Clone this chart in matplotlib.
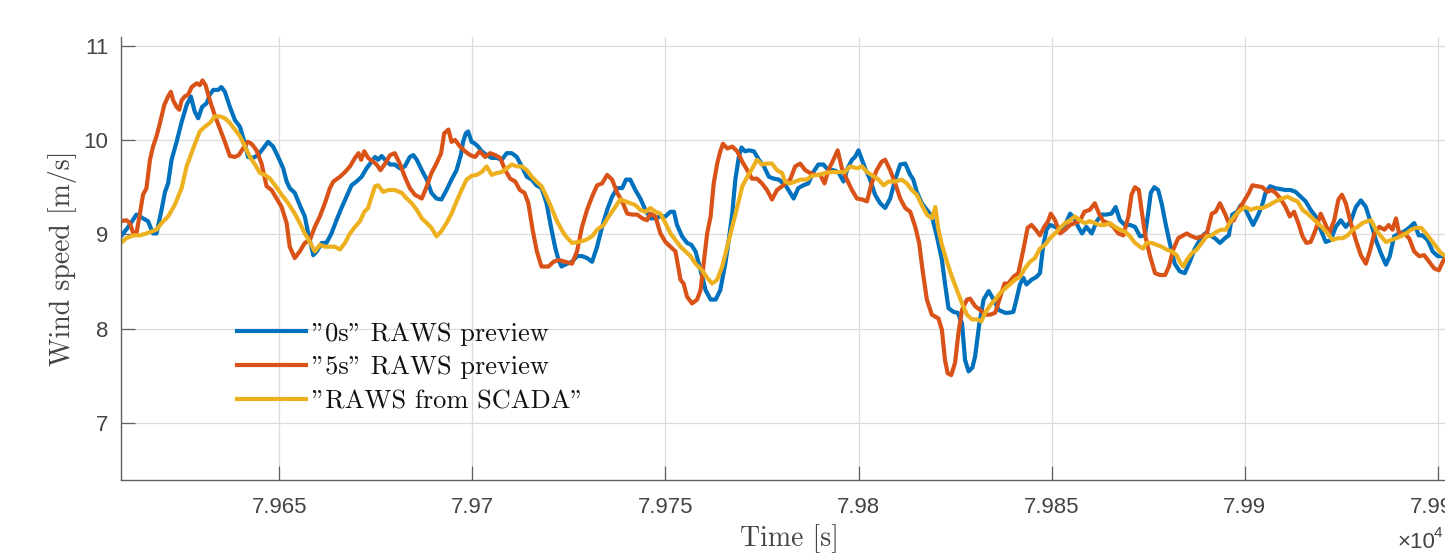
import matplotlib
matplotlib.use('Agg')
import matplotlib.pyplot as plt
from matplotlib.ticker import FuncFormatter

# "0s" RAWS preview (blue)
t_0s = [79609.0, 79610.9, 79613.0, 79614.7, 79616.0, 79617.3, 79618.2, 79619.5, 79620.4, 79621.2,
        79622.1, 79623.4, 79624.7, 79626.0, 79627.1, 79628.1, 79629.0, 79630.0, 79631.2, 79632.0,
        79632.9, 79634.2, 79635.0, 79635.9, 79637.2, 79638.5, 79639.8, 79641.1, 79641.9, 79643.2,
        79644.5, 79645.8, 79647.1, 79648.4, 79649.7, 79651.0, 79651.9, 79652.7, 79654.0, 79655.3,
        79656.6, 79657.5, 79658.8, 79659.7, 79661.0, 79662.2, 79663.5, 79664.8,
        79666.1, 79667.4, 79668.7, 79670.0, 79671.3, 79672.6, 79673.9, 79674.8, 79675.6, 79676.5,
        79677.4, 79678.7, 79679.9, 79681.2, 79682.5, 79683.8, 79684.7, 79685.6, 79686.9, 79688.2,
        79689.4, 79690.7, 79692.0, 79693.3, 79694.6, 79695.9, 79697.0, 79697.6, 79698.3, 79698.9,
        79699.8, 79700.7, 79701.5, 79702.4, 79703.7, 79705.0, 79706.3, 79707.6, 79708.9, 79710.2,
        79711.5, 79712.8, 79714.1, 79715.4, 79716.6, 79717.9, 79719.2, 79720.5, 79721.4, 79722.3,
        79723.1, 79724.0,
        79725.8, 79727.1, 79728.4, 79729.7, 79731.0, 79732.3, 79733.6, 79734.9, 79736.2, 79737.5,
        79738.8, 79739.8, 79740.9, 79742.2, 79743.5, 79744.8, 79746.1, 79747.4, 79748.7, 79750.0,
        79751.3, 79752.2, 79753.0, 79754.3, 79755.6, 79756.7, 79757.8, 79759.1, 79760.4, 79761.7,
        79763.0, 79764.2, 79765.5, 79766.4, 79767.3, 79768.1, 79769.0, 79769.7, 79770.6, 79771.6,
        79772.9, 79774.2, 79775.5, 79776.8, 79778.1, 79779.4, 79781.1,
        79782.3, 79783.2, 79784.4, 79785.7, 79787.0, 79788.3, 79789.6, 79790.9, 79792.2, 79793.5,
        79794.8, 79796.1, 79797.2, 79798.3, 79799.1, 79800.0, 79800.9, 79801.7, 79803.0, 79804.3,
        79805.6, 79806.9, 79808.2, 79809.5, 79810.8, 79812.1, 79813.4, 79814.2, 79815.1, 79816.4,
        79817.7, 79819.0, 79820.3, 79821.6, 79822.4, 79823.3, 79824.6, 79825.7, 79826.8, 79827.6,
        79828.5, 79829.5, 79830.2, 79831.3, 79832.4, 79833.7, 79835.0, 79836.3, 79838.0,
        79838.8, 79840.1, 79840.9, 79841.8, 79842.7, 79843.5, 79844.8, 79846.1, 79847.0, 79847.8,
        79848.7, 79849.6, 79850.9, 79852.2, 79853.5, 79854.8, 79855.9, 79856.9, 79857.9, 79859.0,
        79860.4, 79861.7, 79863.0, 79864.2, 79865.5, 79866.6, 79867.7, 79869.0, 79870.3, 79871.6,
        79872.9, 79874.2, 79875.0, 79875.7, 79876.6, 79877.6, 79878.5, 79879.5, 79880.6, 79881.9,
        79883.2, 79884.5, 79885.8, 79887.1, 79888.4, 79889.7, 79891.0, 79892.3, 79893.6, 79894.9,
        79895.9, 79896.8, 79898.1, 79899.0, 79900.3, 79901.1, 79902.2, 79903.3, 79904.4, 79905.4,
        79906.6, 79907.9, 79909.3, 79910.6, 79911.9, 79913.2, 79914.5, 79915.8, 79917.1, 79918.4,
        79919.7, 79921.0, 79922.3, 79923.6, 79924.9, 79926.2, 79927.5, 79928.8, 79930.1, 79931.4,
        79932.7, 79934.0, 79935.3, 79936.6, 79937.6, 79938.7, 79940.0, 79941.3, 79942.6, 79943.9,
        79945.1, 79946.1, 79947.4, 79948.7, 79950.0, 79951.3, 79952.2, 79956.0]
v_0s = [8.98, 9.08, 9.21, 9.17, 9.14, 9.01, 9.01, 9.26, 9.45, 9.54,
        9.79, 9.98, 10.19, 10.37, 10.46, 10.30, 10.23, 10.35, 10.39, 10.48,
        10.53, 10.53, 10.56, 10.51, 10.35, 10.21, 10.14, 9.96, 9.82, 9.81,
        9.84, 9.91, 9.98, 9.93, 9.82, 9.70, 9.56, 9.49, 9.44, 9.31,
        9.19, 9.01, 8.78, 8.82, 8.91, 8.91, 9.01, 9.15,
        9.28, 9.40, 9.52, 9.56, 9.61, 9.70, 9.77, 9.82, 9.79, 9.83,
        9.79, 9.74, 9.74, 9.70, 9.72, 9.82, 9.84, 9.79, 9.68, 9.58,
        9.44, 9.38, 9.37, 9.47, 9.58, 9.68, 9.84, 9.98, 10.07, 10.09,
        9.98, 9.96, 9.93, 9.88, 9.84, 9.81, 9.81, 9.79, 9.86, 9.86,
        9.82, 9.72, 9.61, 9.58, 9.52, 9.49, 9.33, 9.05, 8.87, 8.73,
        8.66, 8.68,
        8.71, 8.77, 8.77, 8.75, 8.71, 8.87, 9.08, 9.26, 9.40, 9.49,
        9.49, 9.58, 9.58, 9.47, 9.38, 9.26, 9.17, 9.17, 9.19, 9.19,
        9.24, 9.24, 9.10, 8.98, 8.91, 8.89, 8.82, 8.62, 8.41, 8.31,
        8.31, 8.41, 8.69, 8.94, 9.22, 9.58, 9.82, 9.92, 9.88, 9.89,
        9.88, 9.79, 9.72, 9.61, 9.59, 9.58, 9.52,
        9.44, 9.38, 9.49, 9.52, 9.54, 9.66, 9.74, 9.74, 9.68, 9.68,
        9.66, 9.56, 9.70, 9.79, 9.82, 9.89, 9.79, 9.70, 9.58, 9.42,
        9.33, 9.28, 9.38, 9.58, 9.74, 9.75, 9.63, 9.58, 9.45, 9.33,
        9.26, 9.19, 8.98, 8.73, 8.48, 8.22, 8.18, 8.17, 8.06, 7.67,
        7.55, 7.59, 7.71, 8.06, 8.31, 8.40, 8.31, 8.20, 8.17,
        8.17, 8.18, 8.31, 8.47, 8.54, 8.47, 8.52, 8.55, 8.59, 8.87,
        9.05, 9.10, 9.08, 9.05, 9.10, 9.22, 9.17, 9.08, 9.01, 9.08,
        9.01, 9.14, 9.21, 9.21, 9.22, 9.29, 9.15, 9.10, 9.10, 9.08,
        8.98, 8.99, 9.22, 9.44, 9.50, 9.47, 9.33, 9.12, 8.91, 8.69,
        8.61, 8.59, 8.71, 8.85, 8.94, 9.01, 8.99, 8.96, 8.91, 8.96,
        8.99, 9.21, 9.24, 9.31, 9.26, 9.19, 9.10, 9.19, 9.29, 9.44,
        9.51, 9.49, 9.48, 9.47, 9.47, 9.45, 9.40, 9.35, 9.26, 9.19,
        9.05, 8.92, 8.94, 9.08, 9.15, 9.08, 9.14, 9.29, 9.36, 9.29,
        9.12, 8.94, 8.80, 8.68, 8.77, 8.98, 9.01, 9.03, 9.07, 9.12,
        8.99, 8.99, 8.94, 8.82, 8.77, 8.77, 8.78, 8.78]

# "5s" RAWS preview (orange)
t_5s = [79609.0, 79610.4, 79611.3, 79612.2, 79613.0, 79613.9, 79614.7, 79615.6, 79616.5, 79617.3,
        79618.2, 79619.1, 79620.2, 79621.2, 79621.9, 79622.5, 79623.4, 79624.1, 79624.7, 79625.5,
        79626.4, 79627.3, 79628.6, 79629.4, 79630.1, 79630.9, 79632.0, 79633.3, 79634.6, 79635.9,
        79637.2, 79638.5, 79639.5, 79640.6, 79641.8, 79642.8, 79644.1, 79645.4, 79646.7, 79648.0,
        79649.3, 79650.6, 79651.9, 79652.7, 79654.0, 79655.3, 79656.6, 79657.9, 79659.2, 79660.5,
        79661.8, 79663.1, 79664.0,
        79665.7, 79667.0, 79668.3, 79669.6, 79670.5, 79671.2, 79672.0, 79673.0, 79674.3, 79675.2,
        79676.2, 79677.4, 79678.7, 79679.9, 79681.2, 79682.5, 79683.8, 79685.1, 79686.9, 79688.2,
        79689.4, 79690.7, 79691.9, 79692.7, 79693.8, 79694.6, 79695.5, 79696.8, 79698.1, 79699.4,
        79700.7, 79701.9, 79703.3, 79704.6, 79705.9, 79707.2, 79708.5, 79709.8, 79711.1, 79712.3,
        79713.5, 79714.5, 79715.6, 79716.7, 79717.9, 79719.7, 79721.0, 79722.3, 79724.0,
        79725.8, 79727.1, 79728.4, 79729.7, 79731.0, 79732.3, 79733.6, 79734.9, 79736.2, 79737.5,
        79738.8, 79740.1, 79741.4, 79742.7, 79744.0, 79745.2, 79746.1, 79747.4, 79748.7, 79750.0,
        79751.3, 79752.6, 79753.9, 79754.7, 79755.6, 79756.9, 79758.2, 79759.1, 79759.9, 79760.8,
        79761.7, 79762.5, 79763.4, 79764.2, 79764.9, 79766.0, 79767.3, 79768.6, 79769.9, 79771.2,
        79772.4, 79773.7, 79775.0, 79776.3, 79777.6, 79778.9, 79780.2,
        79782.3, 79783.6, 79784.9, 79786.2, 79787.5, 79788.8, 79790.1, 79791.2, 79792.2, 79793.5,
        79794.6, 79795.7, 79797.0, 79798.3, 79799.6, 79800.9, 79802.2, 79803.4, 79804.7, 79806.0,
        79806.9, 79808.2, 79809.5, 79810.8, 79812.1, 79813.4, 79814.7, 79815.7, 79816.6, 79817.7,
        79819.0, 79820.7, 79821.6, 79822.4, 79823.1, 79824.0, 79825.0, 79825.9, 79826.8, 79828.1,
        79828.9, 79830.2, 79831.5, 79832.8, 79834.1, 79835.4, 79836.7, 79837.8,
        79838.8, 79840.1, 79841.4, 79842.7, 79843.8, 79844.8, 79845.9, 79847.0, 79848.1, 79849.1,
        79849.8, 79850.9, 79852.2, 79853.5, 79854.8, 79856.0, 79857.3, 79858.5, 79859.9, 79861.2,
        79862.3, 79863.4, 79864.7, 79866.0, 79867.3, 79868.6, 79869.9, 79870.7, 79871.6, 79872.6,
        79873.3, 79874.3, 79875.5, 79876.8, 79878.1, 79879.4, 79880.4, 79881.5, 79882.8, 79884.1,
        79885.0, 79886.3, 79887.6, 79888.9, 79890.2, 79891.5, 79892.5, 79893.6, 79894.9,
        79895.9, 79897.2, 79898.5, 79899.8, 79901.1, 79902.0, 79903.3, 79904.6, 79905.9, 79907.0,
        79908.0, 79909.3, 79910.6, 79911.7, 79912.8, 79913.9, 79915.0, 79916.0, 79917.1, 79918.4,
        79919.7, 79920.8, 79921.9, 79923.2, 79924.3, 79925.2, 79926.2, 79927.5, 79928.8, 79930.1,
        79931.4, 79932.4, 79933.6, 79934.9, 79936.2, 79937.3, 79938.3, 79939.2, 79940.0, 79941.3,
        79942.6, 79943.9, 79945.2, 79946.5, 79947.8, 79949.1, 79950.3, 79951.3, 79952.2, 79956.0]
v_5s = [9.14, 9.15, 9.12, 9.01, 9.01, 9.22, 9.42, 9.49, 9.79, 9.93,
        10.04, 10.18, 10.37, 10.46, 10.51, 10.42, 10.35, 10.32, 10.42, 10.46,
        10.48, 10.56, 10.60, 10.58, 10.63, 10.58, 10.42, 10.26, 10.12, 9.98,
        9.83, 9.82, 9.84, 9.91, 9.98, 9.96, 9.89, 9.75, 9.51, 9.47,
        9.38, 9.29, 9.12, 8.87, 8.75, 8.82, 8.91, 8.94, 9.08, 9.19,
        9.33, 9.49, 9.56,
        9.61, 9.66, 9.72, 9.81, 9.86, 9.79, 9.88, 9.81, 9.77, 9.74,
        9.68, 9.75, 9.84, 9.86, 9.75, 9.61, 9.49, 9.42, 9.38, 9.51,
        9.65, 9.75, 9.86, 10.07, 10.11, 9.98, 10.00, 9.93, 9.88, 9.84,
        9.82, 9.88, 9.82, 9.86, 9.84, 9.81, 9.68, 9.59, 9.56, 9.47,
        9.44, 9.33, 9.05, 8.82, 8.66, 8.66, 8.71, 8.73, 8.71,
        8.69, 8.82, 9.08, 9.26, 9.40, 9.52, 9.54, 9.63, 9.58, 9.44,
        9.35, 9.22, 9.21, 9.21, 9.17, 9.15, 9.22, 9.19, 9.01, 8.92,
        8.87, 8.82, 8.52, 8.48, 8.34, 8.27, 8.31, 8.41, 8.69, 9.01,
        9.19, 9.54, 9.75, 9.88, 9.96, 9.91, 9.93, 9.88, 9.77, 9.68,
        9.59, 9.59, 9.54, 9.47, 9.37, 9.47, 9.51,
        9.58, 9.72, 9.75, 9.68, 9.65, 9.63, 9.63, 9.54, 9.68, 9.79,
        9.89, 9.70, 9.58, 9.47, 9.38, 9.37, 9.35, 9.54, 9.68, 9.77,
        9.79, 9.68, 9.54, 9.38, 9.28, 9.24, 9.08, 8.91, 8.62, 8.31,
        8.15, 8.11, 7.99, 7.67, 7.53, 7.51, 7.64, 7.96, 8.20, 8.31,
        8.32, 8.24, 8.20, 8.15, 8.15, 8.17, 8.34, 8.48,
        8.48, 8.55, 8.59, 8.84, 9.07, 9.10, 9.05, 8.99, 9.08, 9.14,
        9.22, 9.15, 9.01, 9.05, 9.10, 9.12, 9.14, 9.24, 9.26, 9.33,
        9.22, 9.14, 9.12, 9.08, 9.01, 8.99, 9.19, 9.42, 9.50, 9.47,
        9.26, 8.98, 8.77, 8.59, 8.57, 8.57, 8.66, 8.84, 8.96, 8.99,
        9.01, 8.98, 8.96, 8.98, 9.01, 9.22, 9.24, 9.33, 9.22,
        9.12, 9.15, 9.26, 9.35, 9.44, 9.52, 9.51, 9.50, 9.45, 9.47,
        9.44, 9.38, 9.29, 9.19, 9.24, 9.12, 8.98, 8.91, 8.92, 9.05,
        9.22, 9.12, 9.01, 9.15, 9.37, 9.42, 9.33, 9.12, 8.94, 8.78,
        8.69, 8.82, 9.01, 9.08, 9.05, 9.10, 9.05, 9.17, 9.01, 9.01,
        8.96, 8.82, 8.77, 8.78, 8.71, 8.64, 8.62, 8.71, 8.77, 8.80]

# "RAWS from SCADA" (yellow)
t_scada = [79609.0, 79610.4, 79612.2, 79613.9, 79615.6, 79616.9, 79618.2, 79619.5, 79621.2, 79622.9,
           79624.7, 79626.0, 79627.7, 79629.4, 79630.7, 79632.0, 79633.3, 79634.6, 79635.9, 79637.2,
           79638.5, 79639.8, 79641.1, 79642.4, 79643.7, 79645.0, 79646.3, 79647.6, 79648.9, 79650.6,
           79652.3, 79654.0, 79655.3, 79656.6, 79657.9, 79659.2, 79660.5, 79661.8, 79663.5,
           79664.4, 79665.7, 79667.0, 79668.3, 79669.6, 79670.9, 79672.0, 79673.0, 79673.9, 79674.8,
           79675.6, 79676.9, 79678.2, 79679.9, 79681.7, 79683.0, 79684.3, 79685.6, 79686.9, 79688.2,
           79689.4, 79690.7, 79691.9, 79693.3, 79694.6, 79695.9, 79697.2, 79698.5, 79699.8, 79701.1,
           79702.4, 79703.7, 79705.0, 79706.3, 79707.6, 79708.9, 79710.2, 79711.5, 79712.8, 79714.1,
           79715.4, 79716.6, 79717.9, 79719.2, 79720.5, 79721.8, 79723.1, 79724.0,
           79725.8, 79727.5, 79729.3, 79731.0, 79732.3, 79734.0, 79735.3, 79737.0, 79738.3, 79739.6,
           79740.9, 79742.2, 79743.5, 79744.8, 79746.1, 79747.4, 79748.7, 79750.0, 79751.3, 79752.6,
           79753.9, 79755.2, 79756.5, 79757.8, 79759.5, 79760.8, 79762.1, 79763.4, 79764.7, 79766.0,
           79767.3, 79768.6, 79769.9, 79771.2, 79772.5, 79773.7, 79775.0, 79776.3, 79777.6, 79778.9,
           79780.2,
           79781.0, 79782.3, 79783.6, 79784.9, 79786.6, 79787.9, 79789.6, 79791.4, 79793.1, 79794.8,
           79796.5, 79797.8, 79799.6, 79800.9, 79802.2, 79803.4, 79805.2, 79806.5, 79807.8, 79809.5,
           79811.2, 79812.5, 79813.8, 79815.1, 79816.4, 79817.7, 79819.0, 79819.9, 79820.7, 79821.6,
           79822.9, 79824.2, 79825.5, 79826.8, 79828.1, 79829.4, 79830.7, 79831.8, 79832.8, 79834.1,
           79835.4, 79836.7, 79838.0,
           79839.2, 79840.5, 79841.8, 79843.1, 79844.4, 79845.7, 79847.0, 79848.3, 79849.6, 79850.9,
           79852.2, 79853.5, 79854.8, 79856.0, 79857.3, 79858.6, 79859.9, 79861.2, 79862.5, 79863.8,
           79865.1, 79866.4, 79867.7, 79869.0, 79870.3, 79871.6, 79872.9, 79873.7, 79874.6, 79875.9,
           79877.2, 79878.5, 79879.8, 79881.1, 79882.4, 79883.2, 79884.1, 79885.0, 79886.3, 79887.6,
           79888.9, 79890.2, 79891.5, 79892.8, 79894.0,
           79895.1, 79896.4, 79897.7, 79899.0, 79900.3, 79901.6, 79902.9, 79904.6, 79906.3, 79908.0,
           79909.8, 79911.1, 79912.4, 79913.7, 79915.0, 79916.3, 79917.6, 79918.9, 79920.2, 79921.5,
           79922.8, 79924.1, 79925.4, 79926.7, 79928.0, 79929.3, 79930.5, 79931.8, 79932.7, 79934.0,
           79935.3, 79936.6, 79937.9, 79939.2, 79940.5, 79941.8, 79943.1, 79944.4, 79945.7, 79947.0,
           79948.3, 79949.6, 79950.9, 79952.2, 79956.0]
v_scada = [8.91, 8.96, 8.99, 8.99, 9.01, 9.03, 9.05, 9.12, 9.19, 9.31,
           9.49, 9.72, 9.91, 10.09, 10.14, 10.18, 10.25, 10.25, 10.23, 10.18,
           10.11, 10.04, 9.93, 9.82, 9.74, 9.65, 9.63, 9.59, 9.52, 9.42,
           9.33, 9.22, 9.12, 9.01, 8.92, 8.82, 8.89, 8.87, 8.87,
           8.87, 8.84, 8.91, 9.01, 9.08, 9.14, 9.24, 9.28, 9.40, 9.51,
           9.52, 9.45, 9.47, 9.47, 9.44, 9.38, 9.33, 9.26, 9.17, 9.12,
           9.07, 8.98, 9.03, 9.12, 9.22, 9.35, 9.47, 9.58, 9.62, 9.63,
           9.66, 9.72, 9.63, 9.65, 9.66, 9.70, 9.74, 9.72, 9.72, 9.68,
           9.61, 9.56, 9.51, 9.40, 9.28, 9.15, 9.05, 8.99,
           8.91, 8.92, 8.94, 8.98, 9.05, 9.10, 9.19, 9.29, 9.37, 9.35,
           9.33, 9.31, 9.26, 9.24, 9.28, 9.24, 9.22, 9.12, 9.01, 8.94,
           8.87, 8.82, 8.77, 8.69, 8.62, 8.54, 8.48, 8.52, 8.66, 8.87,
           9.08, 9.29, 9.51, 9.61, 9.70, 9.79, 9.74, 9.75, 9.75, 9.68,
           9.65,
           9.56, 9.54, 9.56, 9.58, 9.58, 9.62, 9.63, 9.65, 9.66, 9.66,
           9.66, 9.72, 9.70, 9.72, 9.66, 9.63, 9.58, 9.52, 9.56, 9.56,
           9.58, 9.54, 9.47, 9.42, 9.31, 9.21, 9.17, 9.29, 9.05, 8.89,
           8.71, 8.55, 8.41, 8.27, 8.15, 8.10, 8.10, 8.08, 8.17, 8.25,
           8.31, 8.38, 8.43,
           8.47, 8.52, 8.55, 8.64, 8.71, 8.75, 8.85, 8.89, 8.96, 9.01,
           9.07, 9.12, 9.15, 9.19, 9.15, 9.12, 9.14, 9.12, 9.10, 9.10,
           9.12, 9.08, 9.05, 9.03, 8.98, 8.91, 8.87, 8.85, 8.91, 8.91,
           8.89, 8.87, 8.84, 8.82, 8.78, 8.71, 8.66, 8.73, 8.80, 8.84,
           8.91, 8.98, 8.99, 9.03, 9.05,
           9.05, 9.14, 9.21, 9.26, 9.29, 9.26, 9.28, 9.28, 9.31, 9.35,
           9.38, 9.40, 9.37, 9.35, 9.26, 9.22, 9.17, 9.12, 9.07, 9.01,
           8.94, 8.96, 8.96, 8.99, 9.05, 9.08, 9.12, 9.14, 9.15, 9.05,
           8.98, 8.92, 8.94, 8.96, 8.98, 9.01, 9.05, 9.07, 9.07, 9.01,
           8.94, 8.87, 8.80, 8.77, 8.75]

labels = ['"0s" RAWS preview', '"5s" RAWS preview', '"RAWS from SCADA"']
colors = ['#0072BD', '#D95319', '#EDB120']
x_ticks = [79650, 79700, 79750, 79800, 79850, 79900, 79950]
y_ticks = [7, 8, 9, 10, 11]

W, H = 1445, 558
fig = plt.figure(figsize=(W / 100, H / 100), dpi=100)
# axes runs past the right edge of the picture, as in the reference crop
ax = fig.add_axes([121 / W, (H - 480) / H, (1457 - 121) / W, (480 - 37) / H])

for t, v, c, lab in zip([t_0s, t_5s, t_scada], [v_0s, v_5s, v_scada], colors, labels):
    ax.plot(t, v, color=c, lw=3.0, label=lab, solid_joinstyle='round')

ax.set_xlim(79609, 79955)
ax.set_ylim(6.4, 11.09)
ax.set_xticks(x_ticks)
ax.set_yticks(y_ticks)
ax.xaxis.set_major_formatter(FuncFormatter(lambda v, p: f'{v / 1e4:g}'))

ax.grid(True, color='#dcdcdc', lw=0.9)
ax.set_axisbelow(True)
for s in ['top', 'right']:
    ax.spines[s].set_visible(False)
for s in ['left', 'bottom']:
    ax.spines[s].set_color('#606060')
    ax.spines[s].set_linewidth(1.0)

ax.tick_params(direction='in', length=10, width=0.9, color='#606060', labelcolor='#444444')
ax.tick_params(axis='x', pad=12)
ax.tick_params(axis='y', pad=9)
for lab in ax.get_xticklabels() + ax.get_yticklabels():
    lab.set_family('Liberation Sans')
    lab.set_fontsize(16)

ax.set_xlabel('Time [s]', family='cmr10', fontsize=20, color='#444444', labelpad=5)
ax.set_ylabel('Wind speed [m/s]', family='cmr10', fontsize=20, color='#444444', labelpad=5)

leg = ax.legend(loc='upper left', bbox_to_anchor=((237 - 121) / 1336, (480 - 322) / 443),
                frameon=False, prop={'family': 'cmr10', 'size': 19},
                handlelength=2.6, handletextpad=0.25, labelspacing=0.38,
                borderpad=0, borderaxespad=0)
for t in leg.get_texts():
    t.set_color('#111111')

fig.text(1397 / W, (H - 548) / H, '\u00d710', family='Liberation Sans', fontsize=16,
         color='#444444', va='baseline')
fig.text(1434 / W, (H - 537) / H, '4', family='Liberation Sans', fontsize=11,
         color='#444444', va='baseline')

fig.savefig('out.png', dpi=100)
